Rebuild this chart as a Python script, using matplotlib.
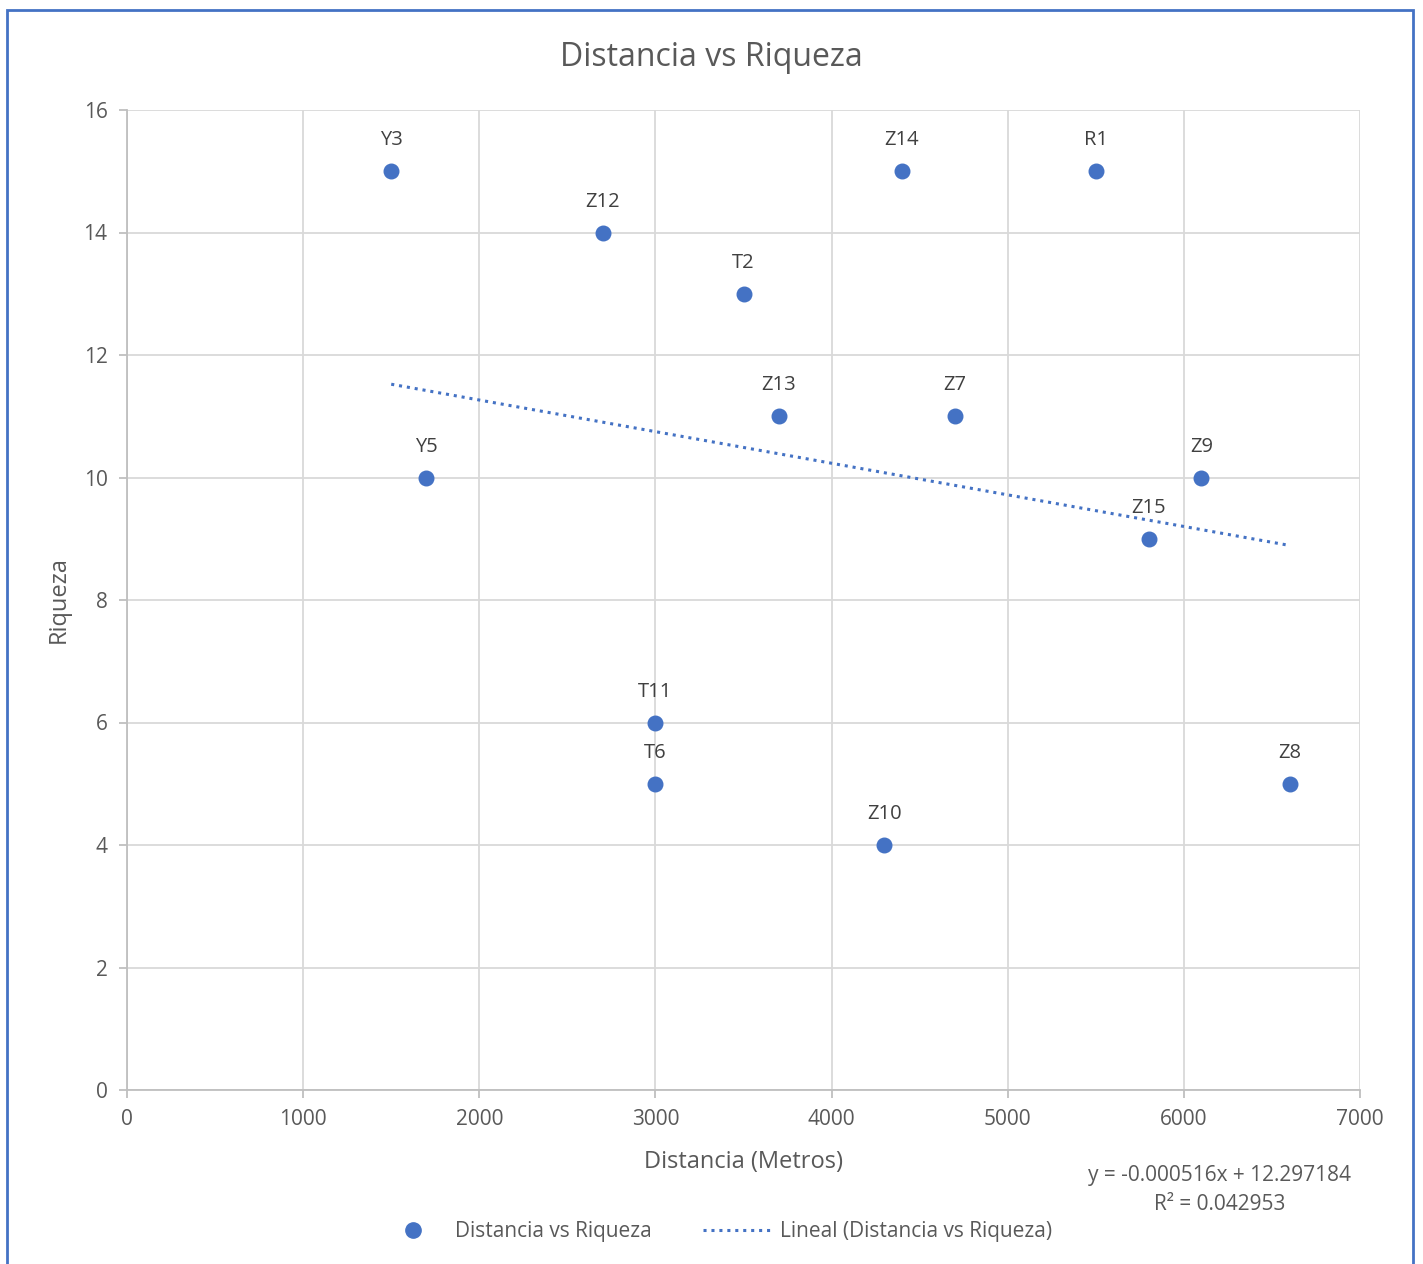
import matplotlib
matplotlib.use('Agg')
import matplotlib.pyplot as plt
import matplotlib.patches as mpatches
from matplotlib.lines import Line2D
import numpy as np

# datos
etiquetas = ['Y3', 'Y5', 'Z12', 'T2', 'Z13', 'T11', 'T6', 'Z10', 'Z14', 'Z7', 'R1', 'Z15', 'Z9', 'Z8']
distancia = [1500, 1700, 2700, 3500, 3700, 3000, 3000, 4300, 4400, 4700, 5500, 5800, 6100, 6600]
riqueza = [15, 10, 14, 13, 11, 6, 5, 4, 15, 11, 15, 9, 10, 5]

ecuacion = 'y = -0.000516x + 12.297184'
r2_texto = 'R² = 0.042953'

azul = '#4472C4'
gris_txt = '#595959'

plt.rcParams['font.family'] = ['Open Sans', 'DejaVu Sans']

fig = plt.figure(figsize=(14.23, 12.64), dpi=100)
ax = fig.add_axes([127/1423, 1 - 1090/1264, (1360-127)/1423, (1090-110)/1264])

# borde del grafico
borde = mpatches.Rectangle((7/1423, -0.01), (1413-7)/1423, 1 - 10/1264 + 0.01,
                           transform=fig.transFigure, fill=False, edgecolor=azul, linewidth=2)
fig.patches.append(borde)

ax.scatter(distancia, riqueza, s=110, color=azul, zorder=3)
for x, y, t in zip(distancia, riqueza, etiquetas):
    ax.annotate(t, (x, y), xytext=(0, 15), textcoords='offset points', ha='center', va='bottom',
                fontsize=14.5, color='#404040')

# linea de tendencia
m, b = np.polyfit(distancia, riqueza, 1)
xs = np.array([min(distancia), max(distancia)])
ax.plot(xs, m*xs + b, color=azul, linestyle=(0, (1, 1.6)), linewidth=2.2, zorder=2)

ax.set_xlim(0, 7000)
ax.set_ylim(0, 16)
ax.set_xticks(range(0, 7001, 1000))
ax.set_yticks(range(0, 17, 2))
ax.grid(True, color='#d9d9d9', linewidth=1.3)
ax.set_axisbelow(True)
for s in ['top', 'right']:
    ax.spines[s].set_visible(False)
for s in ['left', 'bottom']:
    ax.spines[s].set_color('#bfbfbf')
    ax.spines[s].set_linewidth(1.3)
ax.tick_params(colors='#bfbfbf', labelcolor=gris_txt, labelsize=15, length=6, width=1.3, pad=8)

fig.text(0.5, 1 - 57/1264, 'Distancia vs Riqueza', ha='center', va='center', fontsize=23, color=gris_txt)
ax.set_xlabel('Distancia (Metros)', fontsize=17, color=gris_txt, labelpad=14)
ax.set_ylabel('Riqueza', fontsize=17, color=gris_txt, labelpad=9)

fig.text(1220/1423, 1 - 1176/1264, ecuacion, ha='center', va='center', fontsize=15, color=gris_txt)
fig.text(1220/1423, 1 - 1205/1264, r2_texto, ha='center', va='center', fontsize=15, color=gris_txt)

handles = [Line2D([], [], marker='o', linestyle='none', color=azul, markersize=11),
           Line2D([], [], color=azul, linestyle=(0, (1, 1.6)), linewidth=2.2)]
fig.legend(handles, ['Distancia vs Riqueza', 'Lineal (Distancia vs Riqueza)'],
           loc='center', bbox_to_anchor=(715/1423, 1 - 1232/1264), ncol=2, frameon=False,
           fontsize=15, labelcolor=gris_txt, handlelength=3.4, columnspacing=2.5, handletextpad=0.3)

plt.savefig('out.png', dpi=100)
